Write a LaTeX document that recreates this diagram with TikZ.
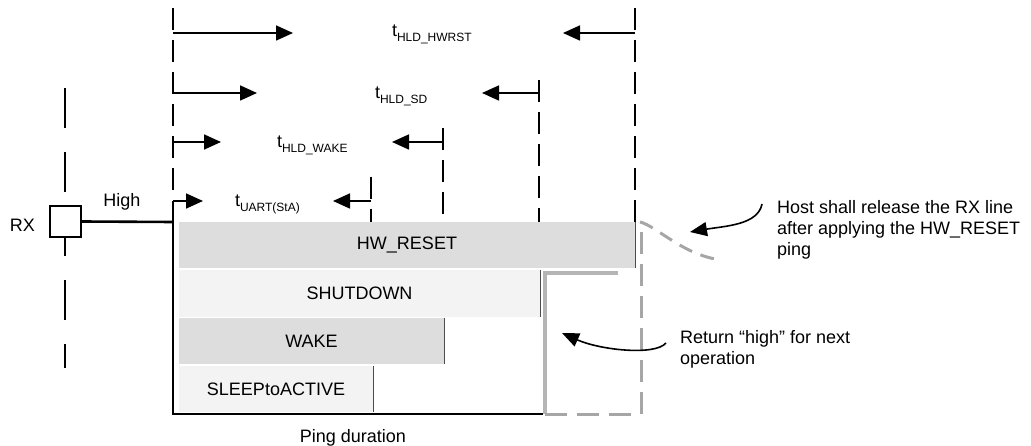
\documentclass[tikz,border=0pt]{standalone}
\usepackage{fontspec}
\setmainfont{Liberation Sans}
\usetikzlibrary{arrows.meta}
\definecolor{bardark}{HTML}{DDDDDD}
\definecolor{barlight}{HTML}{F3F3F3}
\definecolor{greydash}{HTML}{A6A6A6}
\definecolor{greysolid}{HTML}{B5B5B5}
\newcommand\lowsub[1]{\raisebox{-5pt}{\fontsize{12}{12}\selectfont #1}}
\begin{document}
\begin{tikzpicture}[x=1pt,y=-1pt,
  txt/.style={font=\fontsize{18}{21}\selectfont, inner sep=0pt, outer sep=0pt},
  bar/.style={txt, anchor=north west, minimum height=46pt},
  baredge/.style={line width=0.7pt, draw=black!70},
  vdash/.style={line width=2.6pt, dash pattern=on 22pt off 10pt},
  solidline/.style={line width=2.6pt},
  harrow/.style={line width=1.7pt, -{Triangle[length=17pt,width=15pt]}},
  curvearrow/.style={line width=1.6pt, -{Triangle[length=17pt,width=14pt]}},
  greyd/.style={draw=greydash, line width=3pt, dash pattern=on 22pt off 10pt},
  greyc/.style={draw=greydash, line width=3pt, dash pattern=on 14pt off 9pt},
  greys/.style={draw=greysolid, line width=3.3pt},
]
\useasboundingbox (0,0) rectangle (1031,446);

% ---- coordinates of the vertical guide lines
\coordinate (v0top) at (173,8);
\coordinate (v0end) at (173,190);
\coordinate (v1top) at (635,8);
\coordinate (v1bot) at (635,222);
\coordinate (v2top) at (539,80);
\coordinate (v2bot) at (539,222);
\coordinate (v3top) at (443,128);
\coordinate (v3bot) at (443,222);
\coordinate (v4top) at (371,177);
\coordinate (v4bot) at (371,222);

% ---- bars
\node[bar, fill=bardark, minimum width=456pt] (hw) at (179,222) {HW\_RESET};
\node[bar, fill=barlight, minimum width=361pt, minimum height=47pt] (sd) at (179,270) {SHUTDOWN};
\node[bar, fill=bardark, minimum width=265pt, minimum height=45pt] (wk) at (179,318.5) {WAKE};
\node[bar, fill=barlight, minimum width=194pt] (sl) at (179,366) {SLEEPtoACTIVE};
\draw[baredge] (hw.north east) -- (hw.south east);
\draw[baredge] (sd.north east) -- (sd.south east);
\draw[baredge] (wk.north east) -- (wk.south east);
\draw[baredge] (sl.north east) -- (sl.south east);

% ---- dashed guide lines
\draw[vdash] (v0top) -- (v0end);
\draw[vdash] (v1top) -- (v1bot);
\draw[vdash] (v2top) -- (v2bot);
\draw[vdash] (v3top) -- (v3bot);
\draw[vdash] (v4top) -- (v4bot);

% ---- arrows
\coordinate (a1l) at (173,33);  \coordinate (a1lt) at (293,33);
\coordinate (a1r) at (635,33);  \coordinate (a1rt) at (563,33);
\coordinate (a2l) at (173,93);  \coordinate (a2lt) at (257,93);
\coordinate (a2r) at (539,93);  \coordinate (a2rt) at (482,93);
\coordinate (a3l) at (173,142); \coordinate (a3lt) at (221,142);
\coordinate (a3r) at (443,142); \coordinate (a3rt) at (392,142);
\coordinate (a4l) at (173,201); \coordinate (a4lt) at (203,201);
\coordinate (a4r) at (371,201); \coordinate (a4rt) at (333,201);
\draw[harrow] (a1l) -- (a1lt);
\draw[harrow] (a1r) -- (a1rt);
\draw[harrow] (a2l) -- (a2lt);
\draw[harrow] (a2r) -- (a2rt);
\draw[harrow] (a3l) -- (a3lt);
\draw[harrow] (a3r) -- (a3rt);
\draw[harrow] (a4l) -- (a4lt);
\draw[harrow] (a4r) -- (a4rt);

% ---- arrow labels
\node[txt, anchor=base west] (lhw) at (392,37) {t\lowsub{HLD\_HWRST}};
\node[txt, anchor=base west] (lsd) at (375,99) {t\lowsub{HLD\_SD}};
\node[txt, anchor=base west] (lwk) at (277,148) {t\lowsub{HLD\_WAKE}};
\node[txt, anchor=base west] (lua) at (235,207) {t\lowsub{UART(StA)}};

% ---- RX pin
\draw[solidline, dash pattern=on 40pt off 24pt] (65,88) -- (65,368);
\node[draw, line width=2pt, fill=white, minimum size=31pt, inner sep=0pt] (rxbox) at (65.5,221.5) {};
\node[txt] (rx) at (22.5,225) {RX};
\node[txt, anchor=base] (high) at (122,207) {High};
\coordinate (fr) at (173,222);
\draw[solidline] (rxbox.east) -- (fr);

% ---- frame
\coordinate (fbl) at (173,414);
\coordinate (fbr) at (543,414);
\draw[solidline] (a4l) -- (fbl) -- (fbr);

% ---- grey return / release lines
\coordinate (g1) at (545,414);
\coordinate (g2) at (545,273);
\coordinate (g3) at (618,273);
\draw[greys] (g1) -- (g2) -- (g3);
\coordinate (gd1) at (641,232);
\coordinate (gd2) at (641,414);
\draw[greyd] (gd1) -- (gd2) -- (g1);
\coordinate (gc1) at (640,222);
\coordinate (gc2) at (715,259);
\draw[greyc] (gc1) .. controls (656,226) and (680,252) .. (gc2);

% ---- notes
\node[txt, anchor=north west, align=left] (host) at (777,200) {Host shall release the RX line\\after applying the HW\_RESET\\ping};
\node[txt, anchor=north west, align=left] (ret) at (680,330) {Return “high” for next\\operation};
\coordinate (hs) at (762,204);
\coordinate (ht) at (690,232);
\draw[curvearrow] (hs) .. controls (758,225) and (725,226) .. (ht);
\coordinate (rs) at (666,343);
\coordinate (rt) at (562,333);
\draw[curvearrow] (rs) .. controls (655,356) and (600,350) .. (rt);

\node[txt, anchor=base] (ping) at (353,442) {Ping duration};
\end{tikzpicture}
\end{document}
